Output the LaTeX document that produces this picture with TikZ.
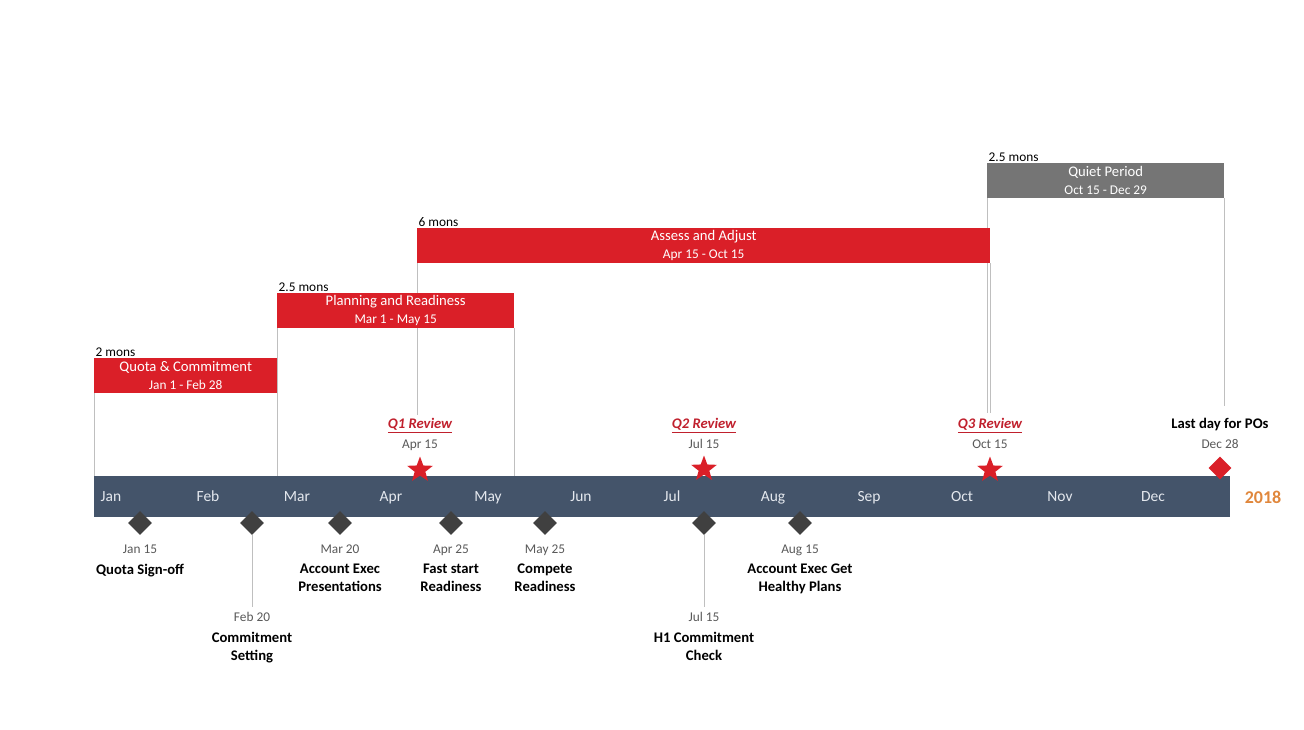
\documentclass[tikz,border=0pt]{standalone}
\usepackage{fontspec}
\setmainfont{Carlito}
\usetikzlibrary{shapes.geometric, calc, backgrounds}

\definecolor{tlblue}{RGB}{68,84,106}
\definecolor{tlred}{RGB}{218,31,40}
\definecolor{qred}{RGB}{192,32,45}
\definecolor{quietgray}{RGB}{117,117,117}
\definecolor{msgray}{RGB}{64,64,64}
\definecolor{dategray}{RGB}{89,89,89}
\definecolor{guidegray}{RGB}{191,191,191}
\definecolor{yearorange}{RGB}{224,135,60}
\definecolor{monthwhite}{RGB}{228,232,238}

\tikzset{
	phase/.style={anchor=north west, minimum height=35pt, inner sep=0pt, align=center, text=white, font=\fontsize{14.67}{18}\selectfont},
	redphase/.style={phase, fill=tlred},
	grayphase/.style={phase, fill=quietgray},
	durlbl/.style={anchor=south west, inner sep=1.5pt, font=\fontsize{13.33}{16}\selectfont},
	guide/.style={draw=guidegray, line width=0.9pt},
	monthlbl/.style={text=monthwhite, inner sep=0pt, text height=10pt, text depth=0pt, font=\fontsize{15.5}{18}\selectfont},
	msdiamond/.style={diamond, fill=msgray, inner sep=0pt, minimum size=24pt},
	datelbl/.style={text=dategray, inner sep=0pt, text height=8.6pt, text depth=0pt, font=\fontsize{13.33}{16}\selectfont},
	titlelbl/.style={anchor=north, inner sep=0pt, align=center, font=\fontsize{14.67}{18}\selectfont\bfseries},
	qlbl/.style={text=qred, inner sep=0pt, text height=9.4pt, text depth=0pt, font=\fontsize{14.67}{18}\selectfont\bfseries\itshape},
	qstar/.style={star, star points=5, star point ratio=2.4, fill=tlred, inner sep=0pt, minimum size=27pt}
}

\begin{document}
\begin{tikzpicture}[x=1pt, y=-1pt]
	\def\tlTop{476}
	\def\msY{523}
	\useasboundingbox (0,0) rectangle (1304,729);

	\node[fill=tlblue, anchor=north west, minimum width=1136pt, minimum height=41pt, inner sep=0pt] (tl) at (94,\tlTop) {};
	\foreach \m/\x in {Jan/111, Feb/208, Mar/297, Apr/391, May/488, Jun/581, Jul/672, Aug/773, Sep/869, Oct/962, Nov/1060, Dec/1153}
		\node[monthlbl] (m-\m) at (\x,496) {\m};
	\node[text=yearorange, font=\fontsize{18}{20}\selectfont\bfseries] (year) at (1263,497) {2018};

	\node[redphase, minimum width=183pt] (quota) at (94,358) {Quota \& Commitment\\{\fontsize{13.33}{18}\selectfont Jan 1 - Feb 28}};
	\node[redphase, minimum width=237pt] (plan) at (277,293) {Planning and Readiness\\{\fontsize{13.33}{18}\selectfont Mar 1 - May 15}};
	\node[redphase, minimum width=573pt] (assess) at (417,228) {Assess and Adjust\\{\fontsize{13.33}{18}\selectfont Apr 15 - Oct 15}};
	\node[grayphase, minimum width=237pt] (quiet) at (987,163) {Quiet Period\\{\fontsize{13.33}{18}\selectfont Oct 15 - Dec 29}};

	\node[durlbl] (quota-d) at (quota.north west) {2 mons};
	\node[durlbl] (plan-d) at (plan.north west) {2.5 mons};
	\node[durlbl] (assess-d) at (assess.north west) {6 mons};
	\node[durlbl] (quiet-d) at (quiet.north west) {2.5 mons};

	\node[qlbl] (q1) at (420,424) {\underline{Q1 Review}};
	\node[qlbl] (q2) at (704,424) {\underline{Q2 Review}};
	\node[qlbl] (q3) at (990,424) {\underline{Q3 Review}};
	\node[inner sep=0pt, text height=9.4pt, text depth=0pt, font=\fontsize{14.67}{18}\selectfont\bfseries] (lastday) at (1220,424) {Last day for POs};
	\node[datelbl] (q1-d) at (420,444) {Apr 15};
	\node[datelbl] (q2-d) at (704,444) {Jul 15};
	\node[datelbl] (q3-d) at (990,444) {Oct 15};
	\node[datelbl] (lastday-d) at (1220,444) {Dec 28};

	\begin{scope}[on background layer]
		\draw[guide] (quota.south west) -- (quota.south west |- tl.north);
		\draw[guide] (plan.south west) -- (plan.south west |- tl.north);
		\draw[guide] (plan.south east) -- (plan.south east |- tl.north);
		\draw[guide, shorten >=4pt] (assess.south west) -- (assess.south west |- q1.north);
		\draw[guide, shorten >=6pt] (assess.south east) -- (assess.south east |- q3.north);
		\draw[guide, shorten >=6pt] (quiet.south west) -- (quiet.south west |- q3.north);
		\draw[guide, shorten >=13pt] (quiet.south east) -- (quiet.south east |- lastday.north);
	\end{scope}

	\node[qstar] (q1-s) at (420,470) {};
	\node[qstar] (q2-s) at (704,469) {};
	\node[qstar] (q3-s) at (990,470) {};
	\node[diamond, fill=tlred, inner sep=0pt, minimum size=23pt] (lastday-s) at (1220,468) {};

	\foreach \n/\x/\d/\t in {jan/140/Jan 15/{Quota Sign-off}, mar/340/Mar 20/{Account Exec\\Presentations}, apr/451/Apr 25/{Fast start\\Readiness}, may/545/May 25/{Compete\\Readiness}, aug/800/Aug 15/{Account Exec Get\\Healthy Plans}}{
		\node[msdiamond] (ms-\n) at (\x,\msY) {};
		\node[datelbl] (ms-\n-d) at (\x,549) {\d};
		\node[titlelbl] (ms-\n-t) at (\x,564) {\t};
	}

	\foreach \n/\x/\d/\t in {feb/252/Feb 20/{Commitment\\Setting}, jul/704/Jul 15/{H1 Commitment\\Check}}{
		\node[datelbl] (ms-\n-d) at (\x,617) {\d};
		\node[titlelbl] (ms-\n-t) at (\x,632) {\t};
		\node[msdiamond] (ms-\n) at (\x,\msY) {};
		\draw[guide] (ms-\n.south) -- ($(ms-\n-d.north)+(0,-6)$);
	}
\end{tikzpicture}
\end{document}
